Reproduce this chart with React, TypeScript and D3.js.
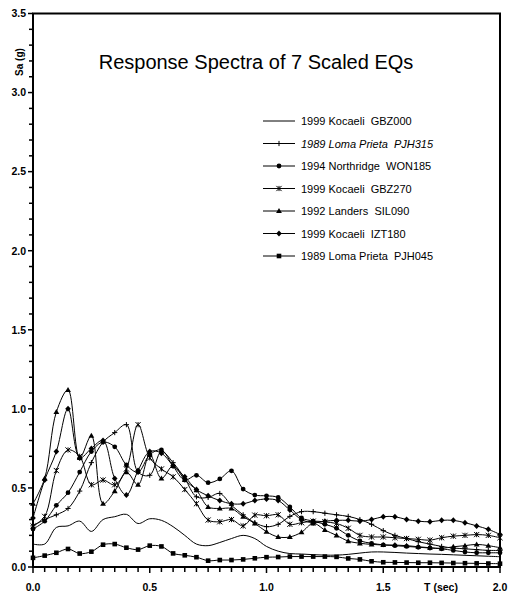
import React from "react";
import * as d3 from "d3";

const periods = [0, 0.05, 0.1, 0.15, 0.2, 0.25, 0.3, 0.35, 0.4, 0.45, 0.5, 0.55, 0.6, 0.65, 0.7, 0.75, 0.8, 0.85, 0.9, 0.95, 1.0, 1.05, 1.1, 1.15, 1.2, 1.25, 1.3, 1.35, 1.4, 1.45, 1.5, 1.55, 1.6, 1.65, 1.7, 1.75, 1.8, 1.85, 1.9, 1.95, 2.0];

const gbz000 = [0.145, 0.145, 0.25, 0.26, 0.29, 0.225, 0.3, 0.318, 0.333, 0.275, 0.305, 0.295, 0.255, 0.2, 0.145, 0.135, 0.155, 0.18, 0.2, 0.18, 0.13, 0.1, 0.085, 0.082, 0.078, 0.075, 0.075, 0.08, 0.088, 0.095, 0.095, 0.092, 0.088, 0.085, 0.082, 0.08, 0.077, 0.074, 0.071, 0.068, 0.065];
const pjh315 = [0.26, 0.3, 0.33, 0.37, 0.48, 0.66, 0.79, 0.85, 0.9, 0.6, 0.58, 0.73, 0.66, 0.56, 0.444, 0.44, 0.465, 0.39, 0.33, 0.28, 0.255, 0.27, 0.32, 0.35, 0.35, 0.34, 0.33, 0.32, 0.3, 0.27, 0.23, 0.2, 0.18, 0.16, 0.145, 0.13, 0.12, 0.115, 0.11, 0.105, 0.105];
const won185 = [0.24, 0.29, 0.39, 0.47, 0.6, 0.73, 0.79, 0.76, 0.645, 0.6, 0.71, 0.74, 0.638, 0.55, 0.58, 0.533, 0.557, 0.608, 0.493, 0.455, 0.45, 0.44, 0.38, 0.31, 0.29, 0.27, 0.245, 0.2, 0.165, 0.15, 0.14, 0.135, 0.13, 0.125, 0.12, 0.115, 0.105, 0.095, 0.09, 0.09, 0.09];
const gbz270 = [0.26, 0.32, 0.61, 0.74, 0.7, 0.52, 0.55, 0.52, 0.62, 0.9, 0.69, 0.62, 0.57, 0.49, 0.4, 0.297, 0.286, 0.3, 0.26, 0.328, 0.324, 0.33, 0.27, 0.28, 0.29, 0.285, 0.275, 0.245, 0.2, 0.19, 0.19, 0.185, 0.18, 0.175, 0.17, 0.185, 0.195, 0.2, 0.205, 0.2, 0.185];
const sil090 = [0.4, 0.56, 0.98, 1.12, 0.69, 0.83, 0.4, 0.48, 0.6, 0.52, 0.71, 0.56, 0.64, 0.55, 0.486, 0.38, 0.37, 0.37, 0.318, 0.276, 0.223, 0.19, 0.19, 0.22, 0.276, 0.234, 0.2, 0.164, 0.15, 0.143, 0.139, 0.139, 0.135, 0.128, 0.122, 0.118, 0.128, 0.135, 0.143, 0.135, 0.122];
const izt180 = [0.31, 0.55, 0.73, 1.0, 0.69, 0.75, 0.8, 0.56, 0.455, 0.61, 0.73, 0.72, 0.64, 0.57, 0.49, 0.45, 0.42, 0.4, 0.4, 0.42, 0.43, 0.42, 0.36, 0.3, 0.28, 0.29, 0.295, 0.295, 0.29, 0.3, 0.318, 0.318, 0.3, 0.29, 0.286, 0.295, 0.295, 0.28, 0.26, 0.238, 0.206];
const pjh045 = [0.058, 0.072, 0.09, 0.114, 0.085, 0.097, 0.141, 0.145, 0.122, 0.11, 0.135, 0.13, 0.086, 0.074, 0.062, 0.04, 0.044, 0.044, 0.048, 0.055, 0.062, 0.063, 0.066, 0.066, 0.066, 0.066, 0.064, 0.054, 0.048, 0.036, 0.03, 0.029, 0.028, 0.027, 0.027, 0.026, 0.025, 0.024, 0.023, 0.022, 0.021];

const seriesNames = ["1999 Kocaeli  GBZ000", "1989 Loma Prieta  PJH315", "1994 Northridge  WON185", "1999 Kocaeli  GBZ270", "1992 Landers  SIL090", "1999 Kocaeli  IZT180", "1989 Loma Prieta  PJH045"];
const seriesValues = [gbz000, pjh315, won185, gbz270, sil090, izt180, pjh045];
const seriesMarkers = ["none", "plus", "circle", "cross", "triangle", "diamond", "square"];
const seriesItalic = [false, true, false, false, false, false, false];

const xTickLabels = [0, 0.5, 1.0, 1.5, 2.0];
const yTickLabels = [0, 0.5, 1.0, 1.5, 2.0, 2.5, 3.0, 3.5];

const W = 508, H = 596;
const X0 = 33, X1 = 500, Y0 = 567, Y1 = 13.5;
const FONT = "Liberation Sans, Arial, sans-serif";

function Marker({ type, x, y }: { type: string; x: number; y: number }) {
  const s = 2.6;
  switch (type) {
    case "plus":
      return <path d={`M${x - s},${y}H${x + s}M${x},${y - s}V${y + s}`} stroke="#000" strokeWidth={1} />;
    case "circle":
      return <circle cx={x} cy={y} r={2.4} fill="#000" />;
    case "cross":
      return <path d={`M${x - s},${y - s}L${x + s},${y + s}M${x - s},${y + s}L${x + s},${y - s}M${x},${y - s}V${y + s}`} stroke="#000" strokeWidth={1} />;
    case "triangle":
      return <path d={`M${x},${y - 3}L${x + 2.9},${y + 2.1}L${x - 2.9},${y + 2.1}Z`} fill="#000" />;
    case "diamond":
      return <path d={`M${x},${y - 3}L${x + 2.8},${y}L${x},${y + 3}L${x - 2.8},${y}Z`} fill="#000" />;
    case "square":
      return <rect x={x - 2.3} y={y - 2.3} width={4.6} height={4.6} fill="#000" />;
    default:
      return null;
  }
}

export default function App() {
  const x = d3.scaleLinear().domain([0, 2]).range([X0, X1]);
  const y = d3.scaleLinear().domain([0, 3.5]).range([Y0, Y1]);
  const line = d3
    .line<number>()
    .x((_, i) => x(periods[i]))
    .y((d) => y(d))
    .curve(d3.curveCatmullRom.alpha(0.5));

  const xMinor = d3.range(0, 41).map((i) => i * 0.05);
  const yMinor = d3.range(0, 36).map((i) => i * 0.1);

  const legX0 = 263, legX1 = 295, legY0 = 121, legDy = 22.5;

  return (
    <svg width={W} height={H} style={{ position: "absolute", left: 0, top: 0 }} fontFamily={FONT}>
      <rect width={W} height={H} fill="#fff" />
      {seriesValues.map((vals, si) => (
        <g key={si}>
          <path d={line(vals) || ""} fill="none" stroke="#000" strokeWidth={1} />
          {seriesMarkers[si] !== "none" &&
            vals.map((v, i) => <Marker key={i} type={seriesMarkers[si]} x={x(periods[i])} y={y(v)} />)}
        </g>
      ))}
      <rect x={X0} y={Y1} width={X1 - X0} height={Y0 - Y1} fill="none" stroke="#000" strokeWidth={2} />
      {xMinor.map((t, i) => (
        <line key={i} x1={x(t)} x2={x(t)} y1={Y0} y2={Y0 + (i % 10 === 0 ? 6 : 5)} stroke="#000" strokeWidth={1.5} />
      ))}
      {yMinor.map((t, i) => (
        <line key={i} x1={X0} x2={X0 - (i % 5 === 0 ? 5 : 4)} y1={y(t)} y2={y(t)} stroke="#000" strokeWidth={1.5} />
      ))}
      {xTickLabels.map((t) => (
        <text key={t} x={x(t)} y={591} textAnchor="middle" fontSize={10.5} fontWeight="bold">
          {t.toFixed(1)}
        </text>
      ))}
      {yTickLabels.map((t) => (
        <text key={t} x={26} y={y(t) + 3.8} textAnchor="end" fontSize={10.5} fontWeight="bold">
          {t.toFixed(1)}
        </text>
      ))}
      <text x={441} y={591} textAnchor="middle" fontSize={10.5} fontWeight="bold">T (sec)</text>
      <text transform="translate(23,62) rotate(-90)" textAnchor="middle" fontSize={10} fontWeight="bold">Sa (g)</text>
      <text x={256} y={69} textAnchor="middle" fontSize={20}>Response Spectra of 7 Scaled EQs</text>
      {seriesNames.map((name, si) => {
        const ly = legY0 + si * legDy;
        return (
          <g key={si}>
            <line x1={legX0} x2={legX1} y1={ly} y2={ly} stroke="#000" strokeWidth={1} />
            <Marker type={seriesMarkers[si]} x={(legX0 + legX1) / 2} y={ly} />
            <text x={301} y={ly + 4} fontSize={11} fontStyle={seriesItalic[si] ? "italic" : "normal"} style={{ whiteSpace: "pre" }}>
              {name}
            </text>
          </g>
        );
      })}
    </svg>
  );
}
